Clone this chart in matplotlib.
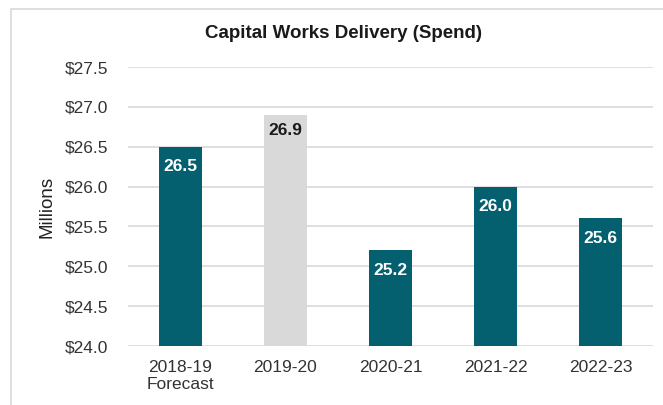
import matplotlib.pyplot as plt
from matplotlib.patches import Rectangle

plt.rcParams['font.family'] = ['Liberation Sans', 'DejaVu Sans']

categories = ["2018-19\nForecast", "2019-20", "2020-21", "2021-22", "2022-23"]
spend = [26.5, 26.9, 25.2, 26.0, 25.6]
is_actual = [True, False, True, True, True]
y_ticks = [24.0, 24.5, 25.0, 25.5, 26.0, 26.5, 27.0, 27.5]

teal = "#04606F"
grey = "#D9D9D9"

fig = plt.figure(figsize=(6.63, 4.05), dpi=100)
ax = fig.add_axes([128 / 663, 1 - 346 / 405, (653 - 128) / 663, (346 - 67) / 405])

# outer chart frame (top and left edges visible)
fig.patches.append(Rectangle((11 / 663, -0.1), 1.2, 1 - 9 / 405 + 0.1,
                             transform=fig.transFigure, fill=False,
                             edgecolor="#D9D9D9", linewidth=1.2))

x = list(range(len(categories)))
colors = [teal if a else grey for a in is_actual]
base = y_ticks[0]
ax.bar(x, [v - base for v in spend], bottom=base, width=0.41, color=colors, zorder=3)

for xi, v, a in zip(x, spend, is_actual):
    ax.annotate(f"{v:.1f}", (xi, v), xytext=(0, -9 if a else -6), textcoords="offset points",
                ha="center", va="top", fontsize=12.5, fontweight="bold",
                color="white" if a else "#1a1a1a", zorder=4)

ax.set_xlim(-0.5, len(categories) - 0.5)
ax.set_ylim(y_ticks[0], y_ticks[-1])
ax.set_yticks(y_ticks)
ax.set_yticklabels([f"${t:.1f}" for t in y_ticks], fontsize=12.5, color="#333333")
ax.set_xticks(x)
ax.set_xticklabels(categories, fontsize=12.5, color="#333333", linespacing=1.15)
ax.tick_params(axis="x", length=0, pad=10)
ax.tick_params(axis="y", length=0, pad=14)
ax.grid(axis="y", color="#D9D9D9", linewidth=1.2, zorder=0)
for s in ax.spines.values():
    s.set_visible(False)
ax.set_ylabel("Millions", fontsize=13.5, color="#222222", labelpad=7)

fig.text(343 / 663, 1 - 34 / 405, "Capital Works Delivery (Spend)", ha="center", va="center",
         fontsize=13.5, fontweight="bold", color="#1a1a1a")

fig.savefig("out.png", dpi=100)
